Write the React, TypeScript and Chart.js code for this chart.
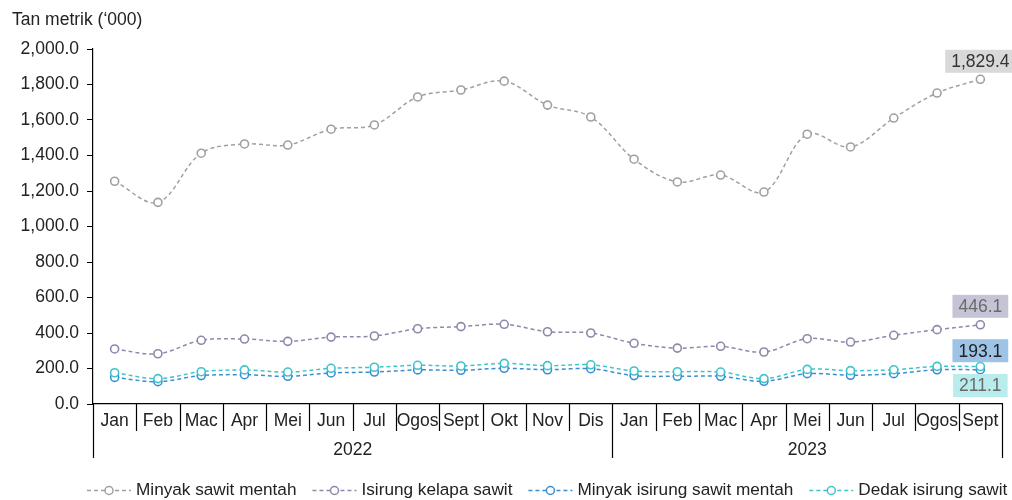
import React, { useEffect, useRef } from "react";
import { Chart, registerables } from "chart.js";

Chart.register(...registerables);

const months = ["Jan", "Feb", "Mac", "Apr", "Mei", "Jun", "Jul", "Ogos", "Sept", "Okt", "Nov", "Dis", "Jan", "Feb", "Mac", "Apr", "Mei", "Jun", "Jul", "Ogos", "Sept"];
const yearLabels = ["2022", "2023"];
const yearSpans = [12, 9];

const seriesNames = ["Minyak sawit mentah", "Isirung kelapa sawit", "Minyak isirung sawit mentah", "Dedak isirung sawit"];
const cpo = [1255, 1136, 1413, 1465, 1459, 1548, 1572, 1730, 1769, 1819, 1684, 1617, 1379, 1251, 1290, 1194, 1520, 1448, 1611, 1752, 1829.4];
const pk = [310, 283, 359, 366, 353, 377, 383, 424, 436, 449, 407, 400, 342, 315, 325, 293, 368, 349, 387, 419, 446.1];
const cpko = [150, 126, 160, 165, 156, 175, 180, 192, 190, 201, 193, 199, 160, 156, 156, 128, 171, 162, 171, 193, 193.1];
const pkc = [176, 143, 182, 192, 180, 201, 207, 218, 214, 229, 216, 221, 186, 182, 180, 143, 195, 188, 193, 212, 211.1];

const lineColors = ["#a0a0a0", "#8a8aaa", "#3a8fd0", "#40c4cc"];
const labelBg = ["#d9d9d9", "#c4c4d6", "#9dc3e6", "#b9ecec"];
const labelFg = ["#333333", "#6a6a6a", "#222222", "#6a6a6a"];
const labelOffset = [-18, -18.5, -19, 19];

const FONT = "'Liberation Sans', Arial, sans-serif";
const FS = 17.5;
const LEGEND_FS = 17.2;

const fmt = (v: number) =>
  v.toLocaleString("en-US", { minimumFractionDigits: 1, maximumFractionDigits: 1 });

const decorPlugin = {
  id: "decor",
  afterDraw(chart: any) {
    const ctx = chart.ctx;
    const area = chart.chartArea;
    const xs = chart.scales.x;
    ctx.save();
    // title
    ctx.fillStyle = "#222";
    ctx.font = `${FS}px ${FONT}`;
    ctx.textAlign = "left";
    ctx.textBaseline = "middle";
    ctx.fillText("Tan metrik (\u2018000)", 12, 20);

    // x-axis separators
    ctx.strokeStyle = "#000";
    ctx.lineWidth = 1.2;
    const n = months.length;
    const bnd = (i: number) => {
      if (i <= 0) return area.left;
      if (i >= n) return area.right;
      return (xs.getPixelForValue(i - 1) + xs.getPixelForValue(i)) / 2;
    };
    const yearEnds = new Set<number>();
    let acc = 0;
    yearSpans.forEach((s) => {
      acc += s;
      yearEnds.add(acc);
    });
    for (let i = 0; i <= n; i++) {
      const x = Math.round(bnd(i)) + 0.5;
      const long = i === 0 || yearEnds.has(i);
      ctx.beginPath();
      ctx.moveTo(x, area.bottom);
      ctx.lineTo(x, area.bottom + (long ? 54 : 27));
      ctx.stroke();
    }
    // year labels
    ctx.fillStyle = "#222";
    ctx.textAlign = "center";
    let start = 0;
    yearLabels.forEach((lab, k) => {
      const end = start + yearSpans[k];
      const cx = (bnd(start) + bnd(end)) / 2;
      ctx.fillText(lab, cx, area.bottom + 46);
      start = end;
    });

    // legend
    let lx = 87;
    const ly = 490;
    ctx.font = `${LEGEND_FS}px ${FONT}`;
    ctx.textAlign = "left";
    seriesNames.forEach((name, i) => {
      ctx.strokeStyle = lineColors[i];
      ctx.lineWidth = 1.5;
      ctx.setLineDash([4, 3]);
      ctx.beginPath();
      ctx.moveTo(lx, ly + 0.5);
      ctx.lineTo(lx + 44, ly + 0.5);
      ctx.stroke();
      ctx.setLineDash([]);
      ctx.beginPath();
      ctx.arc(lx + 22, ly + 0.5, 4, 0, Math.PI * 2);
      ctx.fillStyle = "#fff";
      ctx.fill();
      ctx.stroke();
      ctx.fillStyle = "#222";
      ctx.fillText(name, lx + 49, ly);
      lx += 49 + ctx.measureText(name).width + 16;
    });

    // end labels
    chart.data.datasets.forEach((ds: any, i: number) => {
      const meta = chart.getDatasetMeta(i);
      const pt = meta.data[meta.data.length - 1];
      const val = ds.data[ds.data.length - 1];
      const txt = fmt(val);
      ctx.font = `${FS}px ${FONT}`;
      const w = ctx.measureText(txt).width + 12;
      const h = 23;
      const cy = pt.y + labelOffset[i];
      ctx.fillStyle = labelBg[i];
      ctx.fillRect(pt.x - w / 2, cy - h / 2, w, h);
      ctx.fillStyle = labelFg[i];
      ctx.textAlign = "center";
      ctx.textBaseline = "middle";
      ctx.fillText(txt, pt.x, cy + 1);
    });
    ctx.restore();
  },
};

export default function App() {
  const ref = useRef<HTMLCanvasElement>(null);
  useEffect(() => {
    document.body.style.margin = "0";
    const allData = [cpo, pk, cpko, pkc];
    const chart = new Chart(ref.current!, {
      type: "line",
      data: {
        labels: months,
        datasets: allData.map((d, i) => ({
          label: seriesNames[i],
          data: d,
          borderColor: lineColors[i],
          borderWidth: 1.5,
          borderDash: [4, 3],
          tension: 0.35,
          pointRadius: 4,
          pointBorderWidth: 1.6,
          pointBackgroundColor: "#fff",
          pointBorderColor: lineColors[i],
          order: 3 - i,
          fill: false,
        })),
      },
      options: {
        responsive: false,
        animation: false,
        devicePixelRatio: 1,
        layout: { padding: { top: 49, right: 10, left: 0, bottom: 0 } },
        plugins: { legend: { display: false }, tooltip: { enabled: false } },
        scales: {
          x: {
            type: "category",
            offset: true,
            grid: { display: false, drawTicks: false },
            border: { color: "#000", width: 1.2 },
            ticks: {
              color: "#222",
              font: { size: FS, family: FONT },
              padding: 7,
              maxRotation: 0,
              autoSkip: false,
            },
            afterFit: (s: any) => {
              s.height = 96;
            },
          },
          y: {
            min: 0,
            max: 2000,
            border: { color: "#000", width: 1.2 },
            grid: { drawOnChartArea: false, drawTicks: true, tickLength: 6, color: "#000" },
            ticks: {
              stepSize: 200,
              color: "#222",
              font: { size: FS, family: FONT },
              padding: 8,
              callback: (v: any) => fmt(Number(v)),
            },
            afterFit: (s: any) => {
              s.width = 93;
            },
          },
        },
      },
      plugins: [decorPlugin],
    });
    return () => chart.destroy();
  }, []);
  return <canvas ref={ref} width={1012} height={500} style={{ display: "block" }} />;
}
